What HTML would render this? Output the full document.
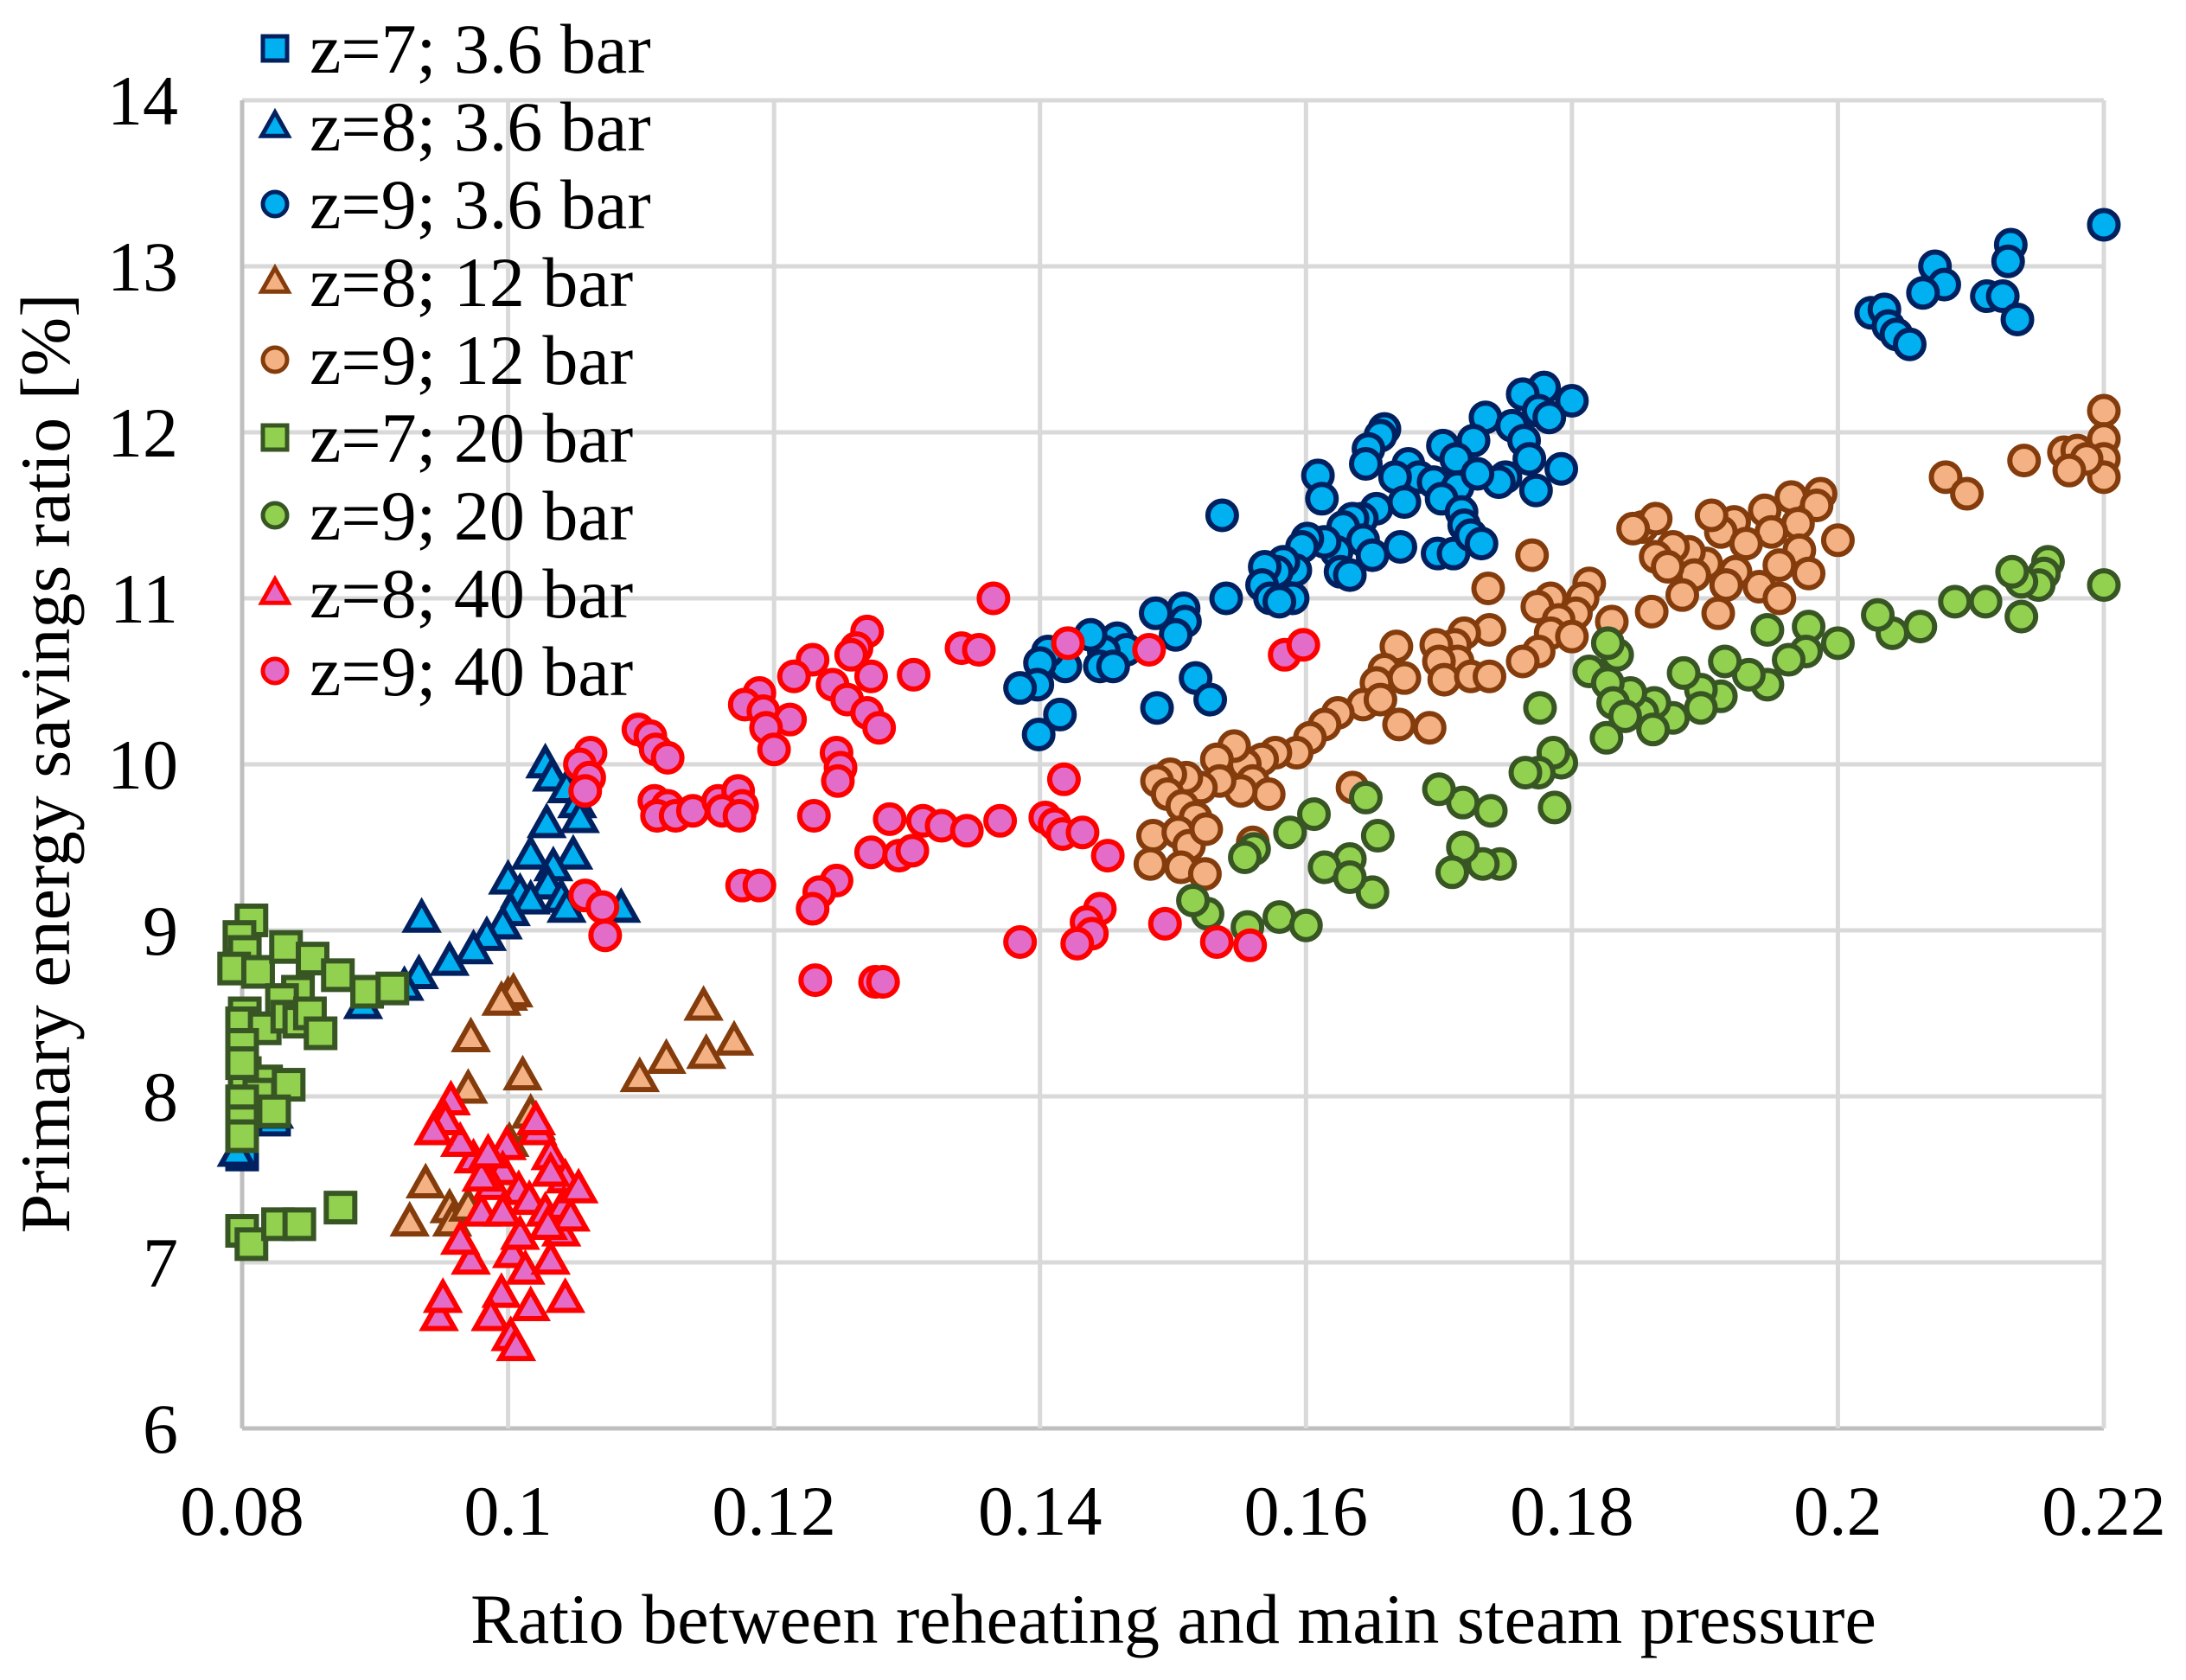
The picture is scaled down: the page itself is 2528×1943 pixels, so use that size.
<!DOCTYPE html>
<html><head><meta charset="utf-8"><style>
html,body{margin:0;padding:0;background:#fff}
svg{display:block}
text{font-family:"Liberation Serif",serif;fill:#000}
</style></head><body>
<svg id="chart" width="2528" height="1943" viewBox="0 0 2528 1943" xmlns="http://www.w3.org/2000/svg">
<g id="grid"></g>
<g id="marks"></g>
<g id="ticks"></g>
<g id="legend"></g>
<text x="0" y="0" font-size="82" text-anchor="middle" transform="translate(80,883) rotate(-90)">Primary energy savings ratio [%]</text>
<text x="1357" y="1900" font-size="82" text-anchor="middle">Ratio between reheating and main steam pressure</text>
</svg>
<script>
const xTicks=[0.08,0.10,0.12,0.14,0.16,0.18,0.20,0.22];
const xTickLabels=["0.08","0.1","0.12","0.14","0.16","0.18","0.2","0.22"];
const yTicks=[6,7,8,9,10,11,12,13,14];
const yTickLabels=["6","7","8","9","10","11","12","13","14"];
const seriesNames=["z=7; 3.6 bar","z=8; 3.6 bar","z=9; 3.6 bar","z=8; 12 bar","z=9; 12 bar","z=7; 20 bar","z=9; 20 bar","z=8; 40 bar","z=9; 40 bar"];
const s7_36=[[0.080,7.65],[0.0824,7.86],[0.080,8.4]];
const s8_36=[[0.1028,10.0],[0.1033,9.92],[0.1044,9.85],[0.1052,9.76],[0.1029,9.64],[0.1054,9.67],[0.1017,9.45],[0.1049,9.45],[0.1034,9.38],[0.100,9.30],[0.1009,9.22],[0.103,9.27],[0.104,9.19],[0.1044,9.13],[0.1085,9.13],[0.1017,9.18],[0.1002,9.11],[0.0996,9.03],[0.0935,9.07],[0.0984,8.96],[0.0974,8.88],[0.0956,8.81],[0.0933,8.73],[0.0922,8.66],[0.0891,8.55],[0.0824,7.89],[0.0796,7.66]];
const s9_36=[[0.220,13.25],[0.213,13.13],[0.2128,13.03],[0.2073,13.00],[0.208,12.89],[0.2064,12.84],[0.2025,12.72],[0.2035,12.74],[0.2038,12.64],[0.2044,12.59],[0.2054,12.53],[0.2112,12.82],[0.2124,12.82],[0.2135,12.68],[0.180,12.19],[0.1779,12.27],[0.1763,12.23],[0.1775,12.13],[0.1783,12.09],[0.1735,12.09],[0.1755,12.04],[0.1726,11.95],[0.1764,11.95],[0.1792,11.78],[0.1773,11.65],[0.1768,11.84],[0.175,11.73],[0.1745,11.70],[0.1703,11.92],[0.1713,11.84],[0.1677,11.81],[0.1685,11.73],[0.1696,11.70],[0.1714,11.67],[0.1729,11.75],[0.1702,11.60],[0.1717,11.52],[0.1699,11.27],[0.1711,11.27],[0.1719,11.44],[0.1724,11.38],[0.1732,11.33],[0.1659,12.02],[0.1656,11.98],[0.1647,11.90],[0.1645,11.81],[0.1667,11.73],[0.1674,11.58],[0.1653,11.54],[0.1642,11.48],[0.1635,11.48],[0.1628,11.43],[0.1643,11.35],[0.1671,11.31],[0.165,11.26],[0.1609,11.74],[0.1612,11.60],[0.1623,11.28],[0.1626,11.16],[0.1633,11.14],[0.1614,11.34],[0.1601,11.36],[0.1597,11.31],[0.1592,11.17],[0.159,11.00],[0.1583,11.22],[0.1578,11.16],[0.1569,11.19],[0.1567,11.08],[0.1573,11.00],[0.1580,10.98],[0.1537,11.50],[0.154,11.00],[0.1517,10.52],[0.1528,10.39],[0.1508,10.94],[0.1509,10.86],[0.1502,10.78],[0.1487,10.91],[0.1488,10.34],[0.1458,10.76],[0.1465,10.69],[0.1448,10.68],[0.1445,10.59],[0.1455,10.59],[0.1438,10.78],[0.1421,10.73],[0.1419,10.59],[0.1406,10.68],[0.140,10.61],[0.1398,10.48],[0.1385,10.46],[0.1399,10.18],[0.1415,10.30]];
const s8_12=[[0.100,8.6],[0.1004,8.62],[0.0995,8.57],[0.0972,8.35],[0.1011,8.12],[0.097,8.04],[0.1021,7.82],[0.1017,7.89],[0.0938,7.47],[0.0926,7.24],[0.0956,7.32],[0.0958,7.24],[0.097,7.33],[0.0988,7.55],[0.1099,8.11],[0.1119,8.22],[0.1147,8.54],[0.1149,8.25],[0.117,8.33],[0.1001,7.72]];
const s9_12=[[0.220,12.13],[0.22,11.96],[0.22,11.84],[0.22,11.73],[0.217,11.88],[0.218,11.89],[0.2187,11.84],[0.2174,11.77],[0.214,11.83],[0.2081,11.73],[0.2097,11.63],[0.1987,11.63],[0.1965,11.61],[0.20,11.35],[0.1984,11.56],[0.197,11.45],[0.1971,11.29],[0.1978,11.15],[0.1945,11.53],[0.195,11.40],[0.1956,11.20],[0.1941,11.07],[0.1956,11.00],[0.1922,11.46],[0.1912,11.40],[0.1931,11.33],[0.1905,11.50],[0.1923,11.16],[0.1916,11.08],[0.1901,11.21],[0.1888,11.28],[0.1892,11.14],[0.1876,11.31],[0.1863,11.25],[0.1872,11.19],[0.1853,11.43],[0.1863,11.48],[0.1846,11.42],[0.1883,11.02],[0.1860,10.92],[0.1910,10.91],[0.177,11.26],[0.1813,11.09],[0.1808,11.00],[0.183,10.86],[0.1803,10.91],[0.1784,11.00],[0.1774,10.95],[0.179,10.87],[0.1784,10.79],[0.18,10.77],[0.1775,10.68],[0.1763,10.62],[0.1737,11.06],[0.1738,10.81],[0.1719,10.79],[0.1712,10.72],[0.1714,10.62],[0.1698,10.72],[0.1700,10.62],[0.1704,10.51],[0.1724,10.53],[0.1738,10.53],[0.1668,10.71],[0.1659,10.57],[0.1674,10.52],[0.1653,10.49],[0.1643,10.36],[0.1656,10.39],[0.167,10.24],[0.1693,10.22],[0.1624,10.31],[0.1614,10.24],[0.1603,10.16],[0.1593,10.07],[0.1577,10.07],[0.1567,10.03],[0.1554,10.0],[0.1546,10.11],[0.1533,10.03],[0.156,9.90],[0.1572,9.82],[0.1551,9.84],[0.1535,9.90],[0.1521,9.86],[0.151,9.92],[0.1498,9.94],[0.1488,9.90],[0.1496,9.82],[0.1507,9.75],[0.1517,9.68],[0.1485,9.57],[0.1504,9.59],[0.1512,9.51],[0.1483,9.40],[0.1506,9.38],[0.1524,9.34],[0.1635,9.86],[0.156,9.53],[0.1525,9.61]];
const s7_20=[[0.0807,9.06],[0.0798,8.96],[0.0802,8.87],[0.0794,8.77],[0.0812,8.75],[0.0833,8.90],[0.0853,8.83],[0.0872,8.73],[0.0842,8.63],[0.0830,8.58],[0.0894,8.63],[0.0913,8.65],[0.0802,8.50],[0.080,8.44],[0.0817,8.41],[0.0834,8.48],[0.0843,8.45],[0.0851,8.50],[0.0859,8.38],[0.08,8.31],[0.0802,8.14],[0.0818,8.09],[0.0835,8.07],[0.0813,8.01],[0.08,7.97],[0.0824,7.91],[0.08,7.85],[0.08,7.76],[0.08,7.19],[0.0807,7.11],[0.0827,7.23],[0.0843,7.23],[0.0874,7.33],[0.08,8.2]];
const s9_20=[[0.22,11.08],[0.2158,11.22],[0.2155,11.15],[0.2151,11.08],[0.2138,11.10],[0.2131,11.16],[0.2138,10.89],[0.2111,10.98],[0.2088,10.98],[0.2062,10.83],[0.2041,10.79],[0.2030,10.90],[0.20,10.73],[0.1978,10.83],[0.1976,10.68],[0.1963,10.63],[0.1947,10.81],[0.1947,10.48],[0.1933,10.54],[0.1915,10.62],[0.1912,10.41],[0.1897,10.45],[0.1884,10.55],[0.1897,10.34],[0.1876,10.28],[0.1862,10.37],[0.1853,10.31],[0.1844,10.43],[0.1834,10.66],[0.1827,10.73],[0.1813,10.56],[0.1827,10.49],[0.1831,10.37],[0.184,10.29],[0.1861,10.21],[0.1826,10.16],[0.1792,10.01],[0.1786,10.07],[0.1775,9.95],[0.1787,9.74],[0.1776,10.34],[0.1765,9.95],[0.1739,9.72],[0.1718,9.77],[0.17,9.85],[0.1746,9.40],[0.1733,9.40],[0.1718,9.50],[0.171,9.35],[0.1645,9.80],[0.1654,9.57],[0.165,9.23],[0.1633,9.43],[0.1614,9.38],[0.1633,9.32],[0.1606,9.70],[0.1588,9.59],[0.1561,9.49],[0.1554,9.44],[0.158,9.08],[0.16,9.03],[0.1556,9.02],[0.1526,9.10],[0.1515,9.18]];
const s8_40=[[0.0999,7.70],[0.0996,7.55],[0.1008,7.43],[0.1016,7.37],[0.1028,7.30],[0.104,7.18],[0.1003,7.05],[0.1013,6.95],[0.0995,6.81],[0.0987,6.67],[0.1002,6.55],[0.1006,6.49],[0.0948,6.67],[0.0951,6.78],[0.0972,7.01],[0.0964,7.13],[0.098,7.30],[0.0988,7.46],[0.0974,7.62],[0.0964,7.72],[0.0957,7.97],[0.0953,7.85],[0.0944,7.79],[0.098,7.51],[0.1022,7.79],[0.1032,7.64],[0.1043,7.50],[0.1032,7.54],[0.1042,7.34],[0.1047,7.27],[0.103,7.22],[0.1032,7.01],[0.1017,6.73],[0.1043,6.78],[0.1053,7.44],[0.1009,7.16],[0.0996,7.30],[0.0985,7.65],[0.1021,7.85]];
const s9_40=[[0.1421,10.73],[0.1482,10.69],[0.1584,10.66],[0.1598,10.72],[0.1365,11.0],[0.1341,10.70],[0.1354,10.69],[0.1270,10.80],[0.1262,10.70],[0.1258,10.66],[0.1229,10.63],[0.1215,10.53],[0.1305,10.54],[0.1273,10.53],[0.1244,10.48],[0.1255,10.39],[0.127,10.31],[0.1279,10.22],[0.1189,10.43],[0.1178,10.36],[0.1192,10.32],[0.1212,10.27],[0.1194,10.22],[0.12,10.09],[0.1247,10.07],[0.125,9.98],[0.1248,9.90],[0.1098,10.21],[0.1107,10.17],[0.1111,10.09],[0.112,10.04],[0.1062,10.07],[0.1054,10.0],[0.1061,9.92],[0.1058,9.84],[0.111,9.78],[0.112,9.75],[0.1112,9.69],[0.1126,9.69],[0.1139,9.72],[0.1158,9.78],[0.1173,9.84],[0.1176,9.75],[0.1161,9.72],[0.1174,9.69],[0.123,9.69],[0.1287,9.67],[0.1312,9.66],[0.1326,9.63],[0.1345,9.60],[0.137,9.66],[0.1404,9.68],[0.1411,9.64],[0.1417,9.58],[0.1432,9.59],[0.1418,9.91],[0.1273,9.47],[0.1294,9.45],[0.1304,9.48],[0.1451,9.45],[0.1058,9.21],[0.1071,9.14],[0.1073,8.97],[0.1176,9.27],[0.1189,9.27],[0.1247,9.30],[0.1234,9.23],[0.1229,9.13],[0.1445,9.13],[0.1435,9.05],[0.1439,8.98],[0.1428,8.92],[0.1385,8.93],[0.1494,9.04],[0.1533,8.93],[0.1558,8.91],[0.1231,8.70],[0.1276,8.69],[0.1282,8.69]];

const NS="http://www.w3.org/2000/svg";
const X0=280,X1=2433,Y0=1652,Y1=116;
const xMin=0.08,xMax=0.22,yMin=6,yMax=14;
function sx(v){return X0+(v-xMin)/(xMax-xMin)*(X1-X0);}
function sy(v){return Y0-(v-yMin)/(yMax-yMin)*(Y0-Y1);}
function mk(tag,attrs,parent){const e=document.createElementNS(NS,tag);for(const k in attrs)e.setAttribute(k,attrs[k]);parent.appendChild(e);return e;}
const grid=document.getElementById('grid'),marks=document.getElementById('marks'),ticks=document.getElementById('ticks'),legend=document.getElementById('legend');
yTicks.forEach((v,i)=>{
  const l=mk('line',{x1:X0,x2:X1,y1:sy(v),y2:sy(v),stroke:i===0?'#bfbfbf':'#d9d9d9','stroke-width':5},grid);
  
  
  const t=mk('text',{x:206,y:sy(v)+28,'font-size':82,'text-anchor':'end'},ticks);
  t.textContent=yTickLabels[i];
  
  
});
xTicks.forEach((v,i)=>{
  const l=mk('line',{x1:sx(v),x2:sx(v),y1:Y1,y2:Y0,stroke:i===0?'#bfbfbf':'#d9d9d9','stroke-width':5},grid);
  
  
  const t=mk('text',{x:sx(v),y:1775,'font-size':82,'text-anchor':'middle'},ticks);
  t.textContent=xTickLabels[i];
  
  
});
const styles=[
 {shape:'square',fill:'#00b0f0',stroke:'#002060'},
 {shape:'triangle',fill:'#00b0f0',stroke:'#002060'},
 {shape:'circle',fill:'#00b0f0',stroke:'#002060'},
 {shape:'triangle',fill:'#f4b183',stroke:'#843c0c'},
 {shape:'circle',fill:'#f4b183',stroke:'#843c0c'},
 {shape:'square',fill:'#92d050',stroke:'#375623'},
 {shape:'circle',fill:'#92d050',stroke:'#375623'},
 {shape:'triangle',fill:'#e36cc8',stroke:'#ff0000'},
 {shape:'circle',fill:'#e36cc8',stroke:'#ff0000'}];
const allSeries=[s7_36,s8_36,s9_36,s8_12,s9_12,s7_20,s9_20,s8_40,s9_40];
function marker(parent,st,cx,cy,r,sw){
  let e;
  if(st.shape==='circle') e=mk('circle',{cx:cx,cy:cy,r:r},parent);
  else if(st.shape==='square') e=mk('rect',{x:cx-r,y:cy-r,width:2*r,height:2*r},parent);
  else e=mk('polygon',{points:`${cx},${cy-r*1.15} ${cx+r*1.1},${cy+r*0.8} ${cx-r*1.1},${cy+r*0.8}`},parent);
  e.setAttribute('fill',st.fill);e.setAttribute('stroke',st.stroke);e.setAttribute('stroke-width',sw);
  return e;
}
allSeries.forEach((ser,si)=>{
  const g=mk('g',{},marks);
  
  
  ser.forEach(p=>{
    const m=marker(g,styles[si],sx(p[0]),sy(p[1]),16.5,6);
    
    
  });
});
seriesNames.forEach((n,i)=>{
  const cy=56+90*i;
  const g=mk('g',{},legend);
  
  
  marker(g,styles[i],318,cy,14,5);
  const t=mk('text',{x:358,y:cy+28,'font-size':82},g);
  t.textContent=n;
});
</script>
</body></html>
